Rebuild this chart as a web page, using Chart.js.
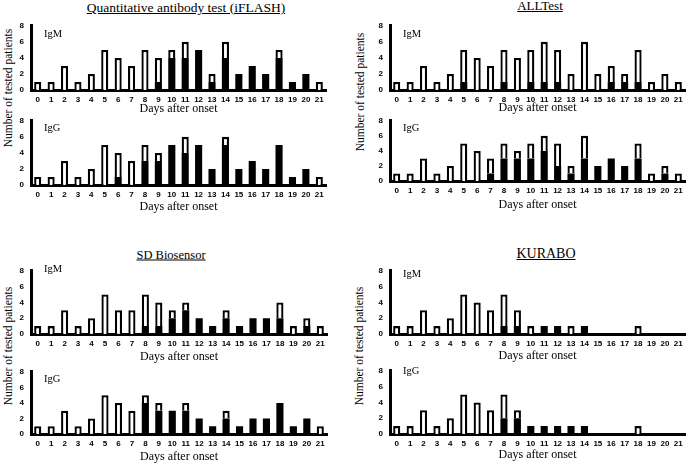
<!DOCTYPE html>
<html>
<head>
<meta charset="utf-8">
<script src="https://cdn.jsdelivr.net/npm/chart.js@4"></script>
<style>
body{margin:0;background:#fff;width:699px;height:465px;position:relative;overflow:hidden;font-family:"Liberation Serif",serif;color:#000;}
canvas{position:absolute;}
.ttl{position:absolute;white-space:nowrap;text-decoration:underline;transform:translate(-50%,-50%);}
.ig{position:absolute;font-size:10.5px;transform:translateY(-50%);}
.ylab{position:absolute;font-size:11.5px;white-space:nowrap;transform:translate(-50%,-50%) rotate(-90deg);}
</style>
</head>
<body>
<div class="ttl" style="left:186px;top:8px;font-size:13.5px">Quantitative antibody test (iFLASH)</div>
<div class="ttl" style="left:540px;top:6px;font-size:13px">ALLTest</div>
<div class="ttl" style="left:171px;top:255px;font-size:12.5px">SD Biosensor</div>
<div class="ttl" style="left:546px;top:254px;font-size:14px">KURABO</div>

<div class="ylab" style="left:8px;top:88px">Number of tested patients</div>
<div class="ylab" style="left:360px;top:92px">Number of tested patients</div>
<div class="ylab" style="left:8px;top:346px">Number of tested patients</div>
<div class="ylab" style="left:359px;top:346px">Number of tested patients</div>

<canvas id="c1"></canvas><canvas id="c2"></canvas>
<canvas id="c3"></canvas><canvas id="c4"></canvas>
<canvas id="c5"></canvas><canvas id="c6"></canvas>
<canvas id="c7"></canvas><canvas id="c8"></canvas>

<div class="ig" style="left:44px;top:33px">IgM</div>
<div class="ig" style="left:44px;top:127px">IgG</div>
<div class="ig" style="left:403px;top:33px">IgM</div>
<div class="ig" style="left:403px;top:127px">IgG</div>
<div class="ig" style="left:44px;top:268px">IgM</div>
<div class="ig" style="left:44px;top:378px">IgG</div>
<div class="ig" style="left:403px;top:273px">IgM</div>
<div class="ig" style="left:403px;top:370px">IgG</div>

<script>
// days after onset
const days = ["0","1","2","3","4","5","6","7","8","9","10","11","12","13","14","15","16","17","18","19","20","21"];
const yTicks = [0, 2, 4, 6, 8];

// tested = all patients, pos = positive (black part)
const iflashIgmTested = [1,1,3,1,2,5,4,3,5,4,5,6,5,2,6,2,3,2,5,1,2,1];
const iflashIgmPos    = [0,0,0,0,0,0,0,0,0,1,4,4,5,1,4,2,3,2,4,1,2,0];
const iflashIggTested = [1,1,3,1,2,5,4,3,5,4,5,6,5,2,6,2,3,2,5,1,2,1];
const iflashIggPos    = [0,0,0,0,0,0,1,0,3,3,5,4,5,2,5,2,3,2,5,1,2,0];

const alltestIgmTested = [1,1,3,1,2,5,4,3,5,4,5,6,5,2,6,2,3,2,5,1,2,1];
const alltestIgmPos    = [0,0,0,0,0,1,0,0,1,0,1,1,1,0,0,0,1,1,1,0,0,0];
const alltestIggTested = [1,1,3,1,2,5,4,3,5,4,5,6,5,2,6,2,3,2,5,1,2,1];
const alltestIggPos    = [0,0,0,0,0,0,0,1,3,3,3,4,2,1,3,2,3,2,3,0,1,0];

const sdIgmTested = [1,1,3,1,2,5,3,3,5,4,3,4,2,1,3,1,2,2,4,1,2,1];
const sdIgmPos    = [0,0,0,0,0,0,0,0,1,1,2,3,2,1,2,1,2,2,2,0,1,0];
const sdIggTested = [1,1,3,1,2,5,4,3,5,4,3,4,2,1,3,1,2,2,4,1,2,1];
const sdIggPos    = [0,0,0,0,0,0,0,0,4,3,3,3,2,1,2,1,2,2,4,1,2,0];

const kuraboIgmTested = [1,1,3,1,2,5,4,3,5,3,1,1,1,1,1,0,0,0,1,0,0,0];
const kuraboIgmPos    = [0,0,0,0,0,0,0,0,1,1,0,1,1,0,1,0,0,0,0,0,0,0];
const kuraboIggTested = [1,1,3,1,2,5,4,3,5,3,1,1,1,1,1,0,0,0,1,0,0,0];
const kuraboIggPos    = [0,0,0,0,0,0,0,0,2,2,1,1,1,1,1,0,0,0,0,0,0,0];

const YW = 20, PT = 6, PR = 4;

function makeChart(id, tested, pos, box){
    const cv = document.getElementById(id);
    const lh = 12 * 1.2;
    const xh = Math.round(box.days - box.b + lh / 2);
    const w = box.r - box.l + YW + PR;
    const h = box.b - box.t + PT + xh;
    cv.width = w; cv.height = h;
    cv.style.width = w + "px"; cv.style.height = h + "px";
    cv.style.left = (box.l - YW) + "px";
    cv.style.top = (box.t - PT) + "px";

    const black = pos.map(v => v > 0 ? v : null);
    const white = tested.map((v, i) => v - pos[i] > 0 ? v - pos[i] : null);
    const tickFont = {family: "Liberation Sans", size: 8, weight: "bold"};

    new Chart(cv, {
        type: "bar",
        data: {
            labels: days,
            datasets: [
                {label: "positive", data: black, backgroundColor: "#000", borderWidth: 0},
                {label: "tested", data: white, backgroundColor: "#fff", borderColor: "#000", borderWidth: 2.3}
            ]
        },
        options: {
            responsive: false,
            animation: false,
            devicePixelRatio: 1,
            layout: {padding: {left: 0, top: PT, right: PR, bottom: 0}},
            plugins: {legend: {display: false}, tooltip: {enabled: false}},
            datasets: {bar: {categoryPercentage: 1, barPercentage: 0.53}},
            scales: {
                x: {
                    stacked: true,
                    grid: {display: false, drawTicks: false},
                    border: {display: true, color: "#000", width: 3},
                    ticks: {color: "#000", font: tickFont, padding: 5, maxRotation: 0, autoSkip: false},
                    title: {display: true, text: "Days after onset", color: "#000",
                            font: {family: "Liberation Serif", size: 12}, padding: 0},
                    afterFit: s => { s.height = xh; }
                },
                y: {
                    stacked: true, min: 0, max: 8,
                    afterBuildTicks: s => { s.ticks = yTicks.map(v => ({value: v})); },
                    grid: {display: false, drawTicks: false},
                    border: {display: true, color: "#000", width: 3},
                    ticks: {color: "#000", font: tickFont, padding: 7},
                    afterFit: s => { s.width = YW; }
                }
            }
        }
    });
}

makeChart("c1", iflashIgmTested, iflashIgmPos, {l: 31, r: 326, t: 20, b: 90, days: 109});
makeChart("c2", iflashIggTested, iflashIggPos, {l: 31, r: 326, t: 115, b: 185, days: 207});
makeChart("c3", alltestIgmTested, alltestIgmPos, {l: 390, r: 685, t: 20, b: 90, days: 108});
makeChart("c4", alltestIggTested, alltestIggPos, {l: 390, r: 685, t: 115, b: 181, days: 205});
makeChart("c5", sdIgmTested, sdIgmPos, {l: 31, r: 327, t: 265, b: 334, days: 357});
makeChart("c6", sdIggTested, sdIggPos, {l: 31, r: 327, t: 366, b: 434, days: 457});
makeChart("c7", kuraboIgmTested, kuraboIgmPos, {l: 390, r: 685, t: 265, b: 334, days: 356});
makeChart("c8", kuraboIggTested, kuraboIggPos, {l: 390, r: 685, t: 365, b: 434, days: 455});
</script>
</body>
</html>
